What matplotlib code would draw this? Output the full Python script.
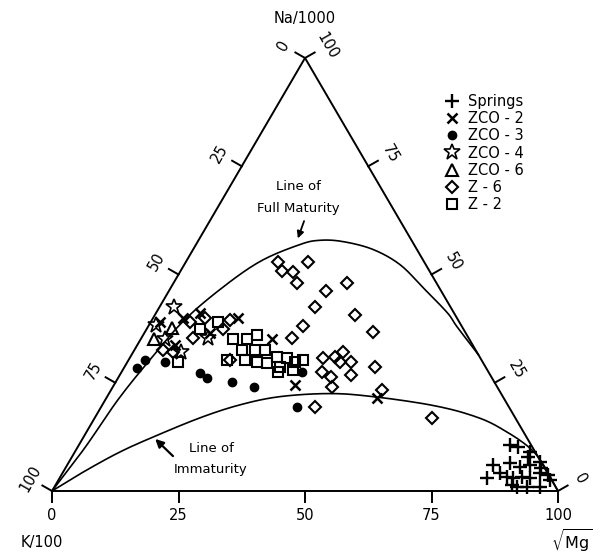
import numpy as np
import matplotlib
matplotlib.use("Agg")
import matplotlib.pyplot as plt
from matplotlib.lines import Line2D

# ternary data, percent Na and sqrt(Mg); K = 100 - Na - Mg
springs_na = [10.6, 10.2, 7.9, 6.0, 6.5, 5.6, 6.0, 6.7, 3.0, 4.2, 3.2, 3.0,
              3.2, 3.0, 4.2, 3.7, 0.9, 0.9, 0.9, 2.5, 5.3, 1.4, 9.0]
springs_mg = [85.2, 87.0, 90.1, 84.2, 87.3, 89.7, 91.5, 93.0, 84.5, 86.4, 88.3, 89.6,
              91.3, 93.0, 94.3, 96.1, 91.4, 93.4, 95.9, 97.2, 94.0, 90.2, 90.0]

zco2_na = [39.1, 40.0, 41.2, 36.6, 40.0, 35.2, 24.5, 21.5, 33.8]
zco2_mg = [1.8, 5.9, 8.6, 12.9, 16.8, 25.9, 35.7, 53.4, 7.4]

zco3_na = [28.5, 30.3, 29.9, 27.3, 26.2, 25.2, 24.1, 19.4, 27.5]
zco3_mg = [2.6, 3.2, 7.4, 15.5, 17.5, 23.0, 27.9, 38.7, 35.6]

zco4_na = [42.4, 38.4, 32.2, 35.4, 35.0]
zco4_mg = [2.9, 1.4, 9.4, 13.1, 4.8]

zco6_na = [35.0, 37.7]
zco6_mg = [2.7, 4.8]

z6_na = [52.8, 50.7, 50.5, 48.1, 53.0, 48.1, 46.1, 42.6, 40.7, 38.0, 36.8, 35.4,
         28.7, 23.4, 16.9, 19.4, 31.0, 32.2, 29.9, 29.9, 26.9, 27.5, 24.1, 30.8,
         26.4, 40.0, 39.6, 35.4, 37.3, 30.3, 32.6, 32.2, 39.1]
z6_mg = [18.3, 20.2, 22.4, 24.3, 24.1, 34.2, 31.0, 30.7, 39.5, 30.6, 45.0, 29.7,
         49.4, 53.5, 66.7, 42.3, 40.4, 41.4, 42.0, 44.2, 45.7, 39.6, 43.3, 38.2,
         41.9, 10.2, 15.4, 10.2, 15.2, 20.0, 5.6, 7.8, 7.7]

z2_na = [39.1, 35.0, 35.0, 36.1, 32.6, 30.3, 32.6, 29.9, 29.6, 31.0, 28.7, 30.8,
         29.9, 30.3, 27.5, 28.0, 30.3, 29.9, 37.3, 32.6]
z2_mg = [13.2, 18.3, 21.0, 22.4, 21.2, 22.9, 23.8, 25.6, 27.7, 29.0, 30.7, 31.0,
         33.1, 34.4, 30.9, 33.6, 19.4, 10.0, 10.6, 25.8]

# reference curves
full_na = [0, 10.0, 21.1, 30.3, 39.1, 46.5, 53.0, 56.9, 57.9, 57.6, 55.8, 52.3,
           47.0, 41.2, 38.0, 31.5]
full_mg = [0, 1.5, 2.5, 4.2, 6.3, 9.9, 14.6, 20.5, 24.0, 28.7, 35.5, 42.6,
           49.8, 57.5, 61.0, 68.5]
immat_na = [0, 4.6, 9.0, 12.5, 16.9, 19.9, 21.8, 22.5, 21.8, 19.9, 17.6, 14.6, 8.8, 0]
immat_mg = [0, 4.2, 8.9, 13.8, 20.8, 27.2, 34.2, 43.7, 52.5, 64.7, 73.8, 81.2, 91.0, 100]

ticks = [0, 25, 50, 75, 100]

H = np.sqrt(3) / 2


def tern(na, mg):
    na = np.asarray(na, dtype=float) / 100
    mg = np.asarray(mg, dtype=float) / 100
    return mg + na / 2, na * H


def smooth(x, y, n=12):
    # catmull-rom through the read points, only to draw a smooth line
    p = np.column_stack([x, y])
    p = np.vstack([p[0], p, p[-1]])
    out = []
    t = np.linspace(0, 1, n, endpoint=False)[:, None]
    for i in range(1, len(p) - 2):
        p0, p1, p2, p3 = p[i - 1], p[i], p[i + 1], p[i + 2]
        seg = 0.5 * ((2 * p1) + (-p0 + p2) * t + (2 * p0 - 5 * p1 + 4 * p2 - p3) * t ** 2
                     + (-p0 + 3 * p1 - 3 * p2 + p3) * t ** 3)
        out.append(seg)
    out.append(p[-2][None, :])
    out = np.vstack(out)
    return out[:, 0], out[:, 1]


fig = plt.figure(figsize=(6.08, 5.53), dpi=100)
ax = fig.add_axes([0, 0, 1, 1])
ax.set_xlim(-0.1028, 1.0988)
ax.set_ylim(-0.124, 0.982)
ax.axis("off")

lw = 1.4
# triangle
tx, ty = tern([0, 0, 100, 0], [0, 100, 0, 0])
ax.plot(tx, ty, color="black", lw=lw, solid_joinstyle="miter")

# curves
x, y = tern(full_na, full_mg)
ax.plot(*smooth(x, y), color="black", lw=1.2)
x, y = tern(immat_na, immat_mg)
ax.plot(*smooth(x, y), color="black", lw=1.2)

fs = 10.5
tl = 0.022
td = 0.05
# bottom axis (sqrt Mg)
for t in ticks:
    px, py = tern(0, t)
    ax.plot([px, px], [py, py - tl], color="black", lw=lw)
    ax.text(px, py - td, str(t), ha="center", va="center", fontsize=fs)
# left edge (K)
nl = np.array([-H, 0.5])
for t in ticks:
    px, py = tern(100 - t, 0)
    ax.plot([px, px + nl[0] * tl], [py, py + nl[1] * tl], color="black", lw=lw)
    ax.text(px + nl[0] * td, py + nl[1] * td, str(t), ha="center", va="center",
            fontsize=fs, rotation=60)
# right edge (Na)
nr = np.array([H, 0.5])
for t in ticks:
    px, py = tern(t, 100 - t)
    ax.plot([px, px + nr[0] * tl], [py, py + nr[1] * tl], color="black", lw=lw)
    ax.text(px + nr[0] * td, py + nr[1] * td, str(t), ha="center", va="center",
            fontsize=fs, rotation=-60)

# corner labels
ax.text(0.5, 0.945, "Na/1000", ha="center", va="center", fontsize=fs)
ax.text(-0.02, -0.104, "K/100", ha="center", va="center", fontsize=fs)
ax.text(1.027, -0.1, r"$\sqrt{\mathrm{Mg}}$", ha="center", va="center", fontsize=fs + 1)

# data
ms_style = dict(linestyle="none", color="black")
x, y = tern(springs_na, springs_mg)
ax.plot(x, y, marker="+", ms=10, mew=1.7, **ms_style)
x, y = tern(zco2_na, zco2_mg)
ax.plot(x, y, marker="x", ms=7, mew=1.8, **ms_style)
x, y = tern(zco3_na, zco3_mg)
ax.plot(x, y, marker="o", ms=6, **ms_style)
x, y = tern(zco4_na, zco4_mg)
ax.plot(x, y, marker="*", ms=12, mfc="none", mew=1.2, **ms_style)
x, y = tern(zco6_na, zco6_mg)
ax.plot(x, y, marker="^", ms=8, mfc="none", mew=1.5, **ms_style)
x, y = tern(z6_na, z6_mg)
ax.plot(x, y, marker="D", ms=6, mfc="none", mew=1.5, **ms_style)
x, y = tern(z2_na, z2_mg)
ax.plot(x, y, marker="s", ms=6.5, mfc="none", mew=1.5, **ms_style)

# annotations
ax.text(0.487, 0.61, "Line of", ha="center", va="center", fontsize=9.5)
ax.text(0.486, 0.565, "Full Maturity", ha="center", va="center", fontsize=9.5)
ax.annotate("", xy=(0.484, 0.5), xytext=(0.5, 0.545),
            arrowprops=dict(arrowstyle="-|>", color="black", lw=1.3, mutation_scale=10))
ax.text(0.316, 0.084, "Line of", ha="center", va="center", fontsize=9.5)
ax.text(0.314, 0.042, "Immaturity", ha="center", va="center", fontsize=9.5)
ax.annotate("", xy=(0.2, 0.108), xytext=(0.243, 0.066),
            arrowprops=dict(arrowstyle="-|>", color="black", lw=1.6, mutation_scale=12))

# legend
handles = [
    Line2D([], [], marker="+", ms=10, mew=1.7, **ms_style),
    Line2D([], [], marker="x", ms=7, mew=1.8, **ms_style),
    Line2D([], [], marker="o", ms=6, **ms_style),
    Line2D([], [], marker="*", ms=12, mfc="none", mew=1.2, **ms_style),
    Line2D([], [], marker="^", ms=8, mfc="none", mew=1.5, **ms_style),
    Line2D([], [], marker="D", ms=6, mfc="none", mew=1.5, **ms_style),
    Line2D([], [], marker="s", ms=6.5, mfc="none", mew=1.5, **ms_style),
]
labels = ["Springs", "ZCO - 2", "ZCO - 3", "ZCO - 4", "ZCO - 6", "Z - 6", "Z - 2"]
fig.legend(handles, labels, loc="upper left", bbox_to_anchor=(0.732, 0.83),
           frameon=False, fontsize=fs, handlelength=1.0, handletextpad=0.55,
           labelspacing=0.15, borderpad=0, borderaxespad=0)

plt.savefig("out.png", dpi=100)
